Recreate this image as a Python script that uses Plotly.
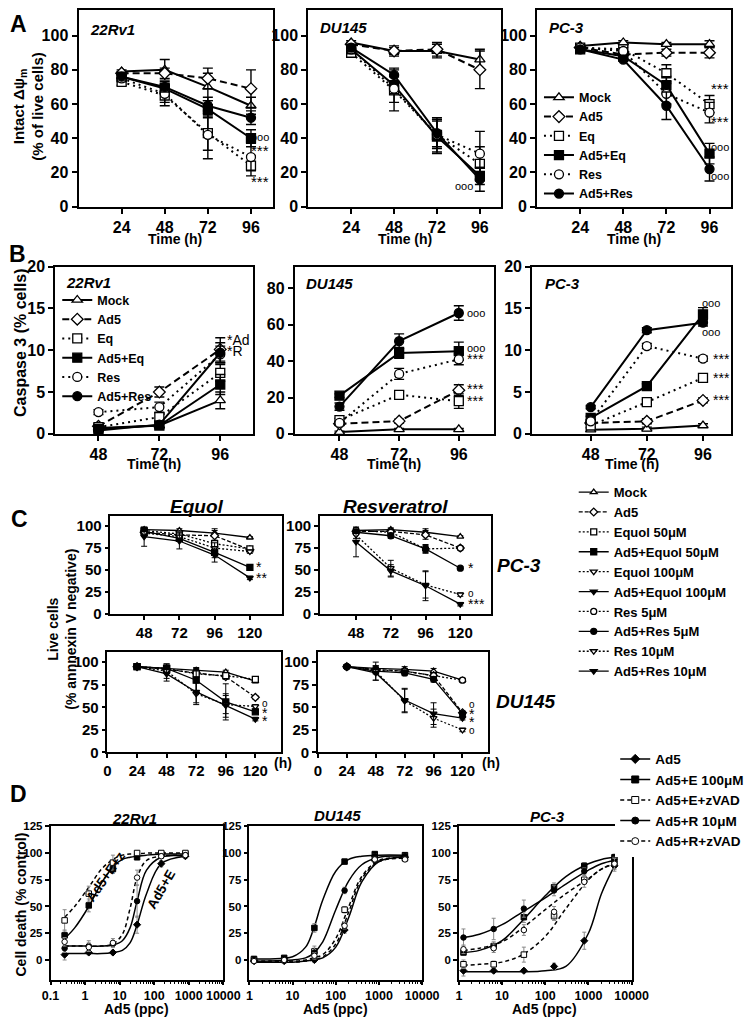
import plotly.graph_objects as go

W, H = 750, 1029
FONT = "Liberation Sans, Arial, Helvetica, sans-serif"

# ---------------- A: intact mitochondrial potential (% of live cells) ----------------
a_series = ["Mock", "Ad5", "Eq", "Ad5+Eq", "Res", "Ad5+Res"]
a_time = [24, 48, 72, 96]
a_22rv1 = [[79, 80, 70, 59], [78, 78, 75, 69], [73, 65, 43, 24],
           [76, 69, 57, 40], [75, 66, 42, 29], [76, 70, 59, 52]]
a_22rv1_err = [[1, 6, 8, 5], [1, 3, 6, 11], [2, 6, 10, 6],
               [2, 3, 5, 5], [2, 5, 14, 8], [1, 3, 5, 4]]
a_du145 = [[96, 91, 91, 86], [95, 91, 92, 80], [90, 68, 42, 25],
           [92, 71, 41, 18], [92, 69, 42, 31], [93, 77, 43, 16]]
a_du145_err = [[1, 3, 4, 6], [1, 2, 4, 11], [2, 12, 10, 10],
               [2, 5, 10, 5], [2, 8, 8, 13], [2, 4, 8, 7]]
a_pc3 = [[94, 96, 95, 95], [93, 89, 90, 90], [93, 92, 78, 60],
         [92, 88, 71, 31], [93, 91, 66, 55], [92, 86, 59, 22]]
a_pc3_err = [[1, 1, 1, 2], [1, 1, 2, 3], [1, 2, 5, 5],
             [1, 2, 5, 6], [1, 2, 6, 6], [1, 1, 8, 7]]

# ---------------- B: caspase 3 (% cells) ----------------
b_time = [48, 72, 96]
b_22rv1 = [[0.7, 1.0, 4.0], [0.9, 5.0, 10.1], [0.8, 2.0, 7.3],
           [0.6, 1.0, 5.9], [2.6, 3.2, 9.5], [0.4, 1.1, 9.7]]
b_22rv1_err = [[0.3, 0.3, 1.0], [0.3, 0.6, 1.4], [0.3, 0.5, 1.0],
               [0.3, 0.4, 1.2], [0.3, 0.6, 1.0], [0.3, 0.3, 1.2]]
b_du145 = [[1, 2.5, 2.5], [5.5, 7, 24], [7.5, 21.5, 18],
           [21, 44.5, 45.5], [6, 33, 41], [15, 51, 66.5]]
b_du145_err = [[0.5, 0.5, 0.5], [1, 1, 3], [1, 2, 4],
               [1, 3, 5], [1, 3, 3], [2, 4, 4]]
b_pc3 = [[0.5, 0.6, 1.0], [1.3, 1.5, 4.0], [1.0, 3.8, 6.7],
         [1.9, 5.7, 14.3], [1.5, 10.5, 9.0], [3.2, 12.4, 13.3]]
b_pc3_err = [[0.2, 0.2, 0.2], [0.2, 0.3, 0.3], [0.2, 0.3, 0.3],
             [0.2, 0.3, 0.8], [0.2, 0.3, 0.3], [0.2, 0.3, 0.4]]

# ---------------- C: live cells (% annexin V negative) ----------------
c_eq_series = ["Mock", "Ad5", "Equol 50μM", "Ad5+Equol 50μM", "Equol 100μM", "Ad5+Equol 100μM"]
c_res_series = ["Mock", "Ad5", "Res 5μM", "Ad5+Res 5μM", "Res 10μM", "Ad5+Res 10μM"]
c_pc3_time = [48, 72, 96, 120]
c_pc3_eq = [[96, 95, 92, 87], [93, 90, 89, 73], [95, 91, 80, 74],
            [94, 86, 70, 53], [92, 88, 75, 71], [88, 83, 67, 41]]
c_pc3_eq_err = [[2, 2, 3, 1], [3, 3, 8, 2], [2, 3, 4, 2],
                [3, 3, 6, 2], [3, 5, 6, 2], [11, 9, 8, 2]]
c_pc3_res = [[95, 96, 93, 88], [94, 94, 90, 75], [95, 93, 74, 75],
             [93, 89, 74, 52], [90, 52, 33, 22], [82, 49, 32, 11]]
c_pc3_res_err = [[2, 2, 4, 1], [3, 3, 5, 2], [3, 3, 4, 2],
                 [3, 3, 5, 2], [4, 9, 15, 2], [17, 7, 17, 2]]
c_du_time = [24, 48, 72, 96, 120]
c_du_eq = [[95, 93, 91, 89, 79], [95, 92, 88, 84, 61], [95, 93, 87, 85, 81],
           [95, 93, 80, 56, 45], [95, 90, 65, 53, 51], [95, 87, 67, 52, 37]]
c_du_eq_err = [[1, 2, 2, 2, 2], [1, 3, 4, 3, 2], [1, 3, 4, 3, 2],
               [1, 5, 14, 20, 2], [1, 8, 12, 10, 2], [1, 8, 12, 13, 2]]
c_du_res = [[95, 93, 92, 90, 80], [95, 92, 90, 85, 44], [95, 91, 90, 85, 80],
            [95, 90, 88, 81, 43], [95, 90, 57, 38, 25], [95, 88, 58, 43, 38]]
c_du_res_err = [[1, 3, 3, 3, 2], [1, 3, 3, 3, 2], [1, 3, 3, 3, 2],
                [1, 3, 3, 3, 2], [1, 10, 13, 10, 2], [1, 8, 13, 12, 2]]

# ---------------- D: cell death (% control) vs Ad5 dose ----------------
d_series = ["Ad5", "Ad5+E 100μM", "Ad5+E+zVAD", "Ad5+R 10μM", "Ad5+R+zVAD"]
d_22rv1_dose = [0.256, 1.28, 6.4, 32, 160, 800]
d_22rv1 = [[5, 7, 7, 33, 90, 97], [23, 51, 85, 96, 99, 99], [37, 62, 91, 100, 100, 100],
           [11, 13, 15, 55, 97, 98], [17, 12, 16, 77, 97, 98]]
d_22rv1_err = [[5, 2, 2, 8, 3, 2], [5, 6, 4, 2, 1, 1], [10, 7, 7, 1, 1, 1],
               [4, 5, 3, 15, 2, 1], [4, 4, 4, 7, 2, 1]]
d_22rv1_fit_dose = [0.256, 0.5, 1.28, 3, 6.4, 12, 20, 32, 60, 160, 800]
d_22rv1_fit = [[6, 6, 6, 6, 7, 9, 16, 33, 62, 90, 97],
               [20, 30, 50, 72, 87, 94, 96, 97, 98, 99, 99],
               [40, 50, 68, 85, 94, 98, 99, 99, 100, 100, 100],
               [13, 13, 13, 13, 14, 18, 30, 55, 84, 96, 97],
               [13, 13, 13, 13, 15, 24, 48, 77, 93, 97, 98]]
d_du145_dose = [1.28, 6.4, 32, 160, 800, 4000]
d_du145 = [[-1, -1, 0, 28, 93, 96], [1, 2, 30, 92, 99, 98], [0, 0, 8, 47, 95, 95],
           [0, 1, 7, 65, 97, 97], [-1, 0, 4, 32, 94, 94]]
d_du145_err = [[2, 1, 2, 3, 2, 2], [2, 1, 4, 2, 2, 2], [2, 1, 3, 3, 2, 2],
               [2, 1, 6, 3, 2, 2], [2, 1, 3, 3, 2, 2]]
d_du145_fit_dose = [1.28, 3, 10, 20, 30, 50, 100, 200, 400, 1000, 4000]
d_du145_fit = [[-2, -2, -2, -1, 0, 2, 12, 40, 73, 92, 96],
               [1, 1, 3, 12, 28, 56, 83, 94, 97, 98, 98],
               [-1, -1, -1, 0, 2, 5, 20, 50, 78, 93, 96],
               [-1, -1, 0, 2, 6, 17, 47, 74, 89, 96, 97],
               [-2, -2, -2, -1, 0, 3, 15, 45, 76, 92, 95]]
d_pc3_dose = [1.28, 6.4, 32, 160, 800, 4000]
d_pc3 = [[-10, -10, -10, -6, 18, 88], [7, 13, 40, 68, 88, 96], [-4, -4, 5, 41, 75, 90],
         [21, 29, 48, 65, 83, 93], [10, 11, 28, 45, 73, 90]]
d_pc3_err = [[5, 2, 2, 3, 8, 5], [2, 4, 5, 4, 3, 3], [4, 3, 7, 4, 4, 5],
             [8, 10, 8, 5, 3, 3], [4, 4, 5, 5, 5, 5]]
d_pc3_fit_dose = [1.28, 3, 10, 30, 100, 300, 1000, 2000, 4000]
d_pc3_fit = [[-11, -11, -11, -11, -10, -6, 25, 62, 88],
             [7, 9, 18, 37, 60, 78, 90, 94, 96],
             [-5, -4, -2, 5, 22, 48, 75, 85, 90],
             [21, 24, 33, 45, 58, 71, 84, 90, 93],
             [9, 11, 17, 30, 47, 62, 76, 85, 90]]
d_ticks = [0.1, 1, 10, 100, 1000, 10000]
d_ticktext = ["0.1", "1", "10", "100", "1000", "10000"]

# ---------------- styles ----------------
AB_STYLE = {
    "Mock": ("triangle-up", "white", "solid"),
    "Ad5": ("diamond", "white", "7px,4px"),
    "Eq": ("square", "white", "2px,4px"),
    "Ad5+Eq": ("square", "black", "solid"),
    "Res": ("circle", "white", "2px,4px"),
    "Ad5+Res": ("circle", "black", "solid"),
}
C_STYLE = {
    "Mock": ("triangle-up", "white", "solid"),
    "Ad5": ("diamond", "white", "4px,2px"),
    "Equol 50μM": ("square", "white", "2px,2px"),
    "Ad5+Equol 50μM": ("square", "black", "solid"),
    "Equol 100μM": ("triangle-down", "white", "2px,2px"),
    "Ad5+Equol 100μM": ("triangle-down", "black", "solid"),
    "Res 5μM": ("circle", "white", "2px,2px"),
    "Ad5+Res 5μM": ("circle", "black", "solid"),
    "Res 10μM": ("triangle-down", "white", "2px,2px"),
    "Ad5+Res 10μM": ("triangle-down", "black", "solid"),
}
D_STYLE = {
    "Ad5": ("diamond", "black", "solid"),
    "Ad5+E 100μM": ("square", "black", "solid"),
    "Ad5+E+zVAD": ("square", "white", "4px,3px"),
    "Ad5+R 10μM": ("circle", "black", "solid"),
    "Ad5+R+zVAD": ("circle", "white", "4px,3px"),
}

fig = go.Figure()
layout = dict(width=W, height=H, margin=dict(l=0, r=0, t=0, b=0),
              plot_bgcolor="white", paper_bgcolor="white", showlegend=True,
              font=dict(family=FONT, size=14, color="black", weight="bold"))


def sfx(i):
    return "" if i == 1 else str(i)


def add_axes(i, xs, ys, xrange, yrange, xticks, yticks, fs, lw, log=False, yfs=None):
    common = dict(showline=True, linecolor="black", linewidth=lw, mirror=True,
                  ticks="outside", ticklen=5 if lw >= 2 else 4, tickwidth=lw,
                  tickcolor="black", showgrid=False, zeroline=False, tickangle=0)
    xa = dict(common, domain=[xs[0] / W, xs[1] / W], range=xrange, anchor="y" + sfx(i),
              tickfont=dict(size=fs, weight="bold", color="black"))
    if log:
        xa.update(type="log", tickvals=d_ticks, ticktext=d_ticktext,
                  minor=dict(ticks="outside", ticklen=3, tickwidth=1, tickcolor="black",
                             dtick="D1", showgrid=False))
    else:
        xa.update(tickvals=xticks)
    layout["xaxis" + sfx(i)] = xa
    layout["yaxis" + sfx(i)] = dict(common, domain=[1 - ys[1] / H, 1 - ys[0] / H],
                                    range=yrange, anchor="x" + sfx(i), tickvals=yticks,
                                    tickfont=dict(size=yfs or fs, weight="bold", color="black"))


def add_lines(i, x, ys, errs, names, styles, lw, ms, cap, legend=None, names_in_legend=None):
    for y, e, n in zip(ys, errs, names):
        sym, fill, dash = styles[n]
        show = legend is not None and (names_in_legend is None or n in names_in_legend)
        fig.add_trace(go.Scatter(
            x=x, y=y, name=n, mode="lines+markers", cliponaxis=False,
            error_y=dict(type="data", array=e, color="black", thickness=max(1, lw * 0.7), width=cap),
            line=dict(color="black", width=lw, dash=dash),
            marker=dict(symbol=sym, size=ms, color=fill, line=dict(color="black", width=1.3)),
            xaxis="x" + sfx(i), yaxis="y" + sfx(i),
            showlegend=show, legend=legend or "legend"))


def add_dose(i, dose, pts, errs, fit_dose, fits, legend=None):
    for y, e, f, n in zip(pts, errs, fits, d_series):
        sym, fill, dash = D_STYLE[n]
        fig.add_trace(go.Scatter(
            x=fit_dose, y=f, mode="lines", line=dict(color="black", width=1.5, dash=dash, shape="spline"),
            xaxis="x" + sfx(i), yaxis="y" + sfx(i), showlegend=False, hoverinfo="skip"))
        fig.add_trace(go.Scatter(
            x=dose, y=y, mode="markers", name=n, cliponaxis=False,
            error_y=dict(type="data", array=e, color="#888888", thickness=1, width=2),
            marker=dict(symbol=sym, size=5.5, color=fill, line=dict(color="black", width=1)),
            xaxis="x" + sfx(i), yaxis="y" + sfx(i), showlegend=False))
        if legend:
            fig.add_trace(go.Scatter(
                x=[None], y=[None], mode="lines+markers", name=n,
                line=dict(color="black", width=1.5, dash=dash),
                marker=dict(symbol=sym, size=7, color=fill, line=dict(color="black", width=1)),
                xaxis="x" + sfx(i), yaxis="y" + sfx(i), legend=legend))


# ---- axes ----
a_y = [0, 20, 40, 60, 80, 100]
for i, xs in zip([1, 2, 3], [(72, 273), (310, 510), (547, 748)]):
    add_axes(i, xs, (2, 202), [0, 108], [0, 115], a_time, a_y, 16, 2)
add_axes(4, (48, 253), (263, 433), [31, 109], [0, 20], b_time, [0, 5, 10, 15, 20], 16, 2)
add_axes(5, (296, 502), (263, 433), [30, 110], [0, 92], b_time, [0, 20, 40, 60, 80], 16, 2)
add_axes(6, (542, 748), (263, 433), [23, 108], [0, 20], b_time, [0, 5, 10, 15, 20], 16, 2)
c_y = [0, 25, 50, 75, 100]
add_axes(7, (105, 283), (517, 616), [25, 142], [0, 111], c_pc3_time, c_y, 15, 1.5)
add_axes(8, (322, 499), (517, 616), [23, 141], [0, 111], c_pc3_time, c_y, 15, 1.5)
add_axes(9, (102, 282), (655, 757), [0, 141], [0, 111], [0] + c_du_time, c_y, 15, 1.5)
add_axes(10, (320, 496), (655, 757), [0, 141], [0, 111], [0] + c_du_time, c_y, 15, 1.5)
d_y = [0, 25, 50, 75, 100, 125]
add_axes(11, (43, 222), (832, 988), [-1, 4], [-18.4, 125], None, d_y, 12.5, 1.5, log=True, yfs=11.5)
add_axes(12, (249, 428), (832, 988), [0, 4], [-18.4, 125], None, d_y, 12.5, 1.5, log=True, yfs=11.5)
add_axes(13, (466, 645), (832, 988), [0, 4], [-18.4, 125], None, d_y, 12.5, 1.5, log=True, yfs=11.5)

# ---- traces ----
add_lines(1, a_time, a_22rv1, a_22rv1_err, a_series, AB_STYLE, 2, 9, 5)
add_lines(2, a_time, a_du145, a_du145_err, a_series, AB_STYLE, 2, 9, 5)
add_lines(3, a_time, a_pc3, a_pc3_err, a_series, AB_STYLE, 2, 9, 5, legend="legend")
add_lines(4, b_time, b_22rv1, b_22rv1_err, a_series, AB_STYLE, 2, 9, 5, legend="legend2")
add_lines(5, b_time, b_du145, b_du145_err, a_series, AB_STYLE, 2, 9, 5)
add_lines(6, b_time, b_pc3, b_pc3_err, a_series, AB_STYLE, 2, 9, 5)
add_lines(7, c_pc3_time, c_pc3_eq, c_pc3_eq_err, c_eq_series, C_STYLE, 1.3, 6, 3, legend="legend3")
add_lines(8, c_pc3_time, c_pc3_res, c_pc3_res_err, c_res_series, C_STYLE, 1.3, 6, 3,
          legend="legend3", names_in_legend=c_res_series[2:])
add_lines(9, c_du_time, c_du_eq, c_du_eq_err, c_eq_series, C_STYLE, 1.3, 6, 3)
add_lines(10, c_du_time, c_du_res, c_du_res_err, c_res_series, C_STYLE, 1.3, 6, 3)
add_dose(11, d_22rv1_dose, d_22rv1, d_22rv1_err, d_22rv1_fit_dose, d_22rv1_fit)
add_dose(12, d_du145_dose, d_du145, d_du145_err, d_du145_fit_dose, d_du145_fit)
add_dose(13, d_pc3_dose, d_pc3, d_pc3_err, d_pc3_fit_dose, d_pc3_fit, legend="legend4")

# ---- legends ----
leg = dict(xanchor="left", yanchor="top", bgcolor="rgba(0,0,0,0)", borderwidth=0,
           tracegroupgap=0, itemwidth=30, font=dict(size=12.5, weight="bold", color="black"))
layout["legend"] = dict(leg, x=549 / W, y=1 - 76 / H)
layout["legend2"] = dict(leg, x=50 / W, y=1 - 282 / H)
layout["legend3"] = dict(leg, x=585 / W, y=1 - 477 / H, font=dict(size=13, weight="bold", color="black"))
layout["legend4"] = dict(leg, x=628 / W, y=1 - 748 / H, bgcolor="white",
                         font=dict(size=13.5, weight="bold", color="black"))

fig.update_layout(**layout)


# ---- text ----
def px_note(text, x, y, size, angle=0, italic=False, xanchor="center", weight="bold"):
    fig.add_annotation(text=text, x=x / W, y=1 - y / H, xref="paper", yref="paper",
                       showarrow=False, textangle=angle, xanchor=xanchor, yanchor="middle",
                       font=dict(size=size, weight=weight, color="black",
                                 style="italic" if italic else "normal"))


def data_note(i, text, x, y, size=14, angle=0, xanchor="center", weight="normal"):
    fig.add_annotation(text=text, x=x, y=y, xref="x" + sfx(i), yref="y" + sfx(i),
                       showarrow=False, textangle=angle, xanchor=xanchor, yanchor="middle",
                       font=dict(size=size, weight=weight, color="black"))


for t, x, y in [("A", 10, 16), ("B", 9, 250), ("C", 11, 520), ("D", 10, 799)]:
    px_note(t, x, y, 23)

px_note("Intact Δψ<sub>m</sub><br>(% of live cells)", 20, 100, 15, angle=-90)
px_note("Caspase 3 (% cells)", 12, 340, 16, angle=-90)
px_note("Live cells<br>(% annnexin V negative)", 54, 632, 14, angle=-90)
px_note("Cell death (% control)", 12, 912, 14, angle=-90)

for cx in [172, 410, 647]:
    px_note("Time (h)", cx, 235, 14)
for cx in [150, 399, 645]:
    px_note("Time (h)", cx, 464, 14)
for cx in [132, 338, 555]:
    px_note("Ad5 (ppc)", cx, 1018, 14)
px_note("(h)", 272, 768, 14, xanchor="left")
px_note("(h)", 488, 768, 14, xanchor="left")

for t, x, y in [("22Rv1", 82, 22), ("DU145", 320, 20), ("PC-3", 557, 20),
                ("22Rv1", 57, 279), ("DU145", 306, 280), ("PC-3", 553, 280)]:
    px_note(t, x, y, 15, italic=True, xanchor="left")
px_note("Equol", 194, 507, 19, italic=True)
px_note("Resveratrol", 400, 507, 19, italic=True)
px_note("PC-3", 503, 567, 19, italic=True, xanchor="left")
px_note("DU145", 502, 705, 19, italic=True, xanchor="left")
for t, x, y in [("22Rv1", 130, 824), ("DU145", 340, 821), ("PC-3", 558, 822)]:
    px_note(t, x, y, 15, italic=True)

# significance marks
for i, t, x, y in [(1, "ooo", 101, 41), (1, "***", 101, 33), (1, "***", 101, 15),
                   (2, "***", 109, 33), (2, "***", 109, 26), (2, "ooo", 109, 19), (2, "ooo", 87, 12),
                   (3, "***", 102, 69), (3, "***", 102, 50), (3, "ooo", 102, 35), (3, "ooo", 102, 18)]:
    data_note(i, t, x, y, size=11 if t == "ooo" else 15)
for i, t, x, y in [(4, "*Ad", 98, 11.2), (4, "*R", 98, 9.9),
                   (5, "ooo", 98.5, 66.5), (5, "ooo", 98.5, 47), (5, "***", 98.5, 41),
                   (5, "***", 98.5, 24.5), (5, "***", 98.5, 18),
                   (6, "***", 99.3, 9), (6, "***", 99.3, 6.7), (6, "***", 99.3, 4)]:
    data_note(i, t, x, y, size=11 if t == "ooo" else 14, xanchor="left")
for i, t, x, y in [(6, "ooo", 99.3, 15.6), (6, "ooo", 99.3, 12.2)]:
    data_note(i, t, x, y, size=11)
for i, t, x, y in [(7, "*", 123, 53), (7, "**", 123, 41),
                   (8, "*", 124, 52), (8, "o", 124, 23), (8, "***", 124, 11),
                   (9, "o", 124, 54), (9, "*", 124, 44), (9, "*", 124, 35),
                   (10, "o", 124, 53), (10, "*", 124, 43), (10, "*", 124, 34), (10, "o", 124, 24)]:
    data_note(i, t, x, y, size=10 if t == "o" else 14, xanchor="left")

# curve labels in D
for i, t, x, y, ang in [(11, "Ad5+E+z", 0.6, 78, -55), (11, "Ad5+E", 2.2, 66, -60),
                        (11, "Ad5+R+z", 8.7, 47, -75), (11, "Ad5+R", 80, 72, 0), (11, "Ad5", 33, 14, 0),
                        (12, "Ad5+E", 24, 91, 0), (12, "Ad5+R", 87, 50, -70),
                        (12, "Ad5+E+z", 2100, 78, 0), (12, "Ad5+R+z", 890, 30, 0), (12, "Ad5", 205, 7, 0),
                        (13, "Ad5+E", 195, 93, 0), (13, "Ad5+R", 7.5, 50, 0),
                        (13, "Ad5+R+z", 138, 53, -40), (13, "Ad5+E+z", 165, 20, -45), (13, "Ad5", 980, -1.5, 0)]:
    data_note(i, t, x, y, size=13.5, angle=ang, weight="bold")

fig.write_html("out.html", config={"displayModeBar": False},
               post_script="document.body.style.margin='0';")
